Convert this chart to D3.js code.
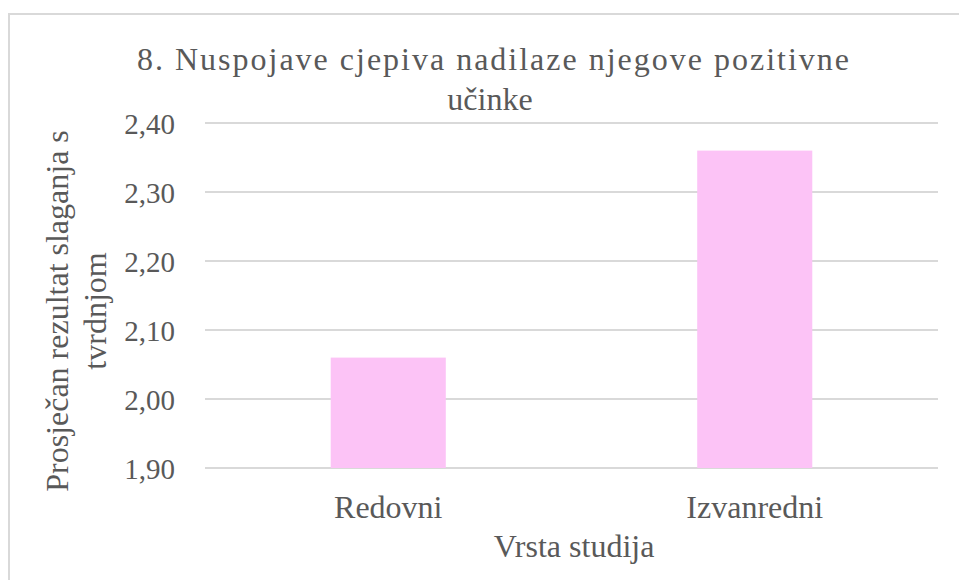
<!DOCTYPE html>
<html>
<head>
<meta charset="utf-8">
<script src="https://cdn.jsdelivr.net/npm/d3@7"></script>
<style>
  html, body { margin: 0; padding: 0; background: #ffffff; }
  svg { display: block; }
  text { font-family: "Times New Roman", "Liberation Serif", Tinos, "DejaVu Serif", serif !important; fill: #595959; }
</style>
</head>
<body>
<svg id="chart" width="959" height="580"></svg>
<script>
const categories = ["Redovni", "Izvanredni"];
const values = [2.06, 2.36];
const yTicks = [1.90, 2.00, 2.10, 2.20, 2.30, 2.40];
const titleLines = ["8. Nuspojave cjepiva nadilaze njegove pozitivne", "učinke"];
const yTitleLines = ["Prosječan rezultat slaganja s", "tvrdnjom"];
const xTitle = "Vrsta studija";

const svg = d3.select("#chart");

svg.append("rect")
  .attr("x", 9).attr("y", 14)
  .attr("width", 980).attr("height", 600)
  .attr("fill", "none").attr("stroke", "#d9d9d9").attr("stroke-width", 2);

const plot = { left: 205, right: 938, top: 123, bottom: 468 };

const x = d3.scaleBand().domain(categories)
  .range([plot.left, plot.right]).paddingInner(0.686).paddingOuter(0.343);
const y = d3.scaleLinear().domain([1.90, 2.40]).range([plot.bottom, plot.top]);

svg.append("g").selectAll("line").data(yTicks).join("line")
  .attr("x1", plot.left).attr("x2", plot.right)
  .attr("y1", d => y(d)).attr("y2", d => y(d))
  .attr("stroke", "#d9d9d9").attr("stroke-width", 2);

svg.append("g").selectAll("rect").data(values).join("rect")
  .attr("x", (d, i) => x(categories[i]))
  .attr("width", x.bandwidth())
  .attr("y", d => y(d))
  .attr("height", d => y(1.90) - y(d))
  .attr("fill", "#fcc3f6");

const fmt = d => d3.format(".2f")(d).replace(".", ",");
const yAxis = d3.axisLeft(y).tickValues(yTicks).tickFormat(fmt).tickSize(0).tickPadding(30);
const yg = svg.append("g").attr("transform", `translate(${plot.left},0)`).call(yAxis);
yg.select(".domain").remove();
yg.selectAll("text").attr("font-size", 29).attr("fill", "#595959").attr("dy", "0.35em");

const xAxis = d3.axisBottom(x).tickSize(0).tickPadding(50);
const xg = svg.append("g").attr("transform", `translate(0,${plot.bottom})`).call(xAxis);
xg.select(".domain").remove();
xg.selectAll("text").attr("font-size", 32).attr("fill", "#595959").attr("dy", "0");

const title = svg.append("text")
  .attr("text-anchor", "middle").attr("font-size", 32);
title.append("tspan")
  .attr("x", 493).attr("y", 70)
  .attr("textLength", 712).attr("lengthAdjust", "spacing")
  .text(titleLines[0]);
title.append("tspan")
  .attr("x", 490).attr("y", 110)
  .text(titleLines[1]);

svg.append("text")
  .attr("transform", "translate(0,311) rotate(-90)")
  .attr("text-anchor", "middle").attr("font-size", 32)
  .selectAll("tspan").data(yTitleLines).join("tspan")
  .attr("x", 0).attr("y", (d, i) => 68 + i * 38)
  .text(d => d);

svg.append("text")
  .attr("x", 574).attr("y", 557)
  .attr("text-anchor", "middle").attr("font-size", 32)
  .text(xTitle);
</script>
</body>
</html>
